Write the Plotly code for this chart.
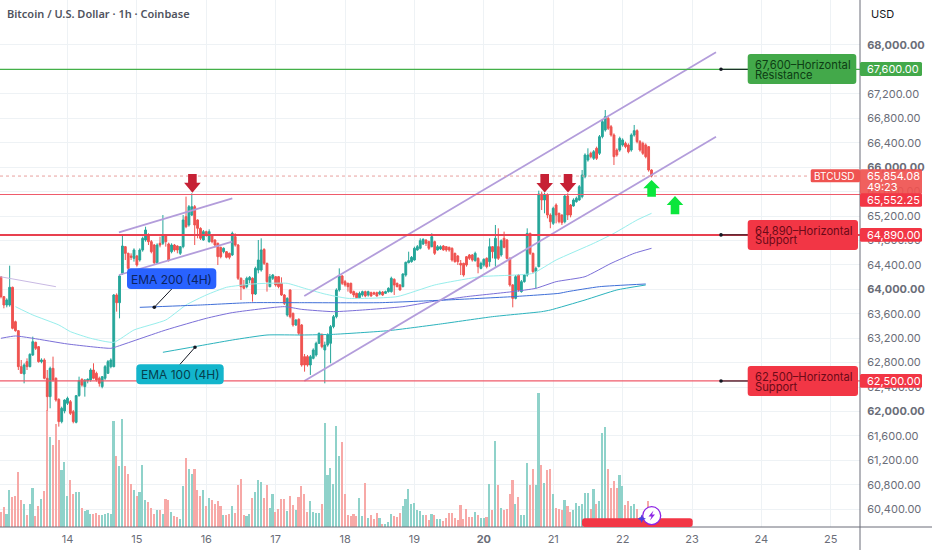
import plotly.graph_objects as go

W, H = 932, 550
PLOT_W, PLOT_H = 860, 527

# BTCUSD 1h candles, hour 1 = first bar on screen (13th 01:00)
opens = [
    64207, 63880, 63743, 63743, 64033, 63470, 63323, 62734, 62614, 62816,
    62734, 62925, 63132, 63061, 62816, 62843, 62543, 62243, 62707, 62543,
    62199, 61834, 62009, 62134, 62161, 61997, 61823, 62259, 62527, 62407,
    62505, 62516, 62679, 62625, 62543, 62407, 62543, 62625, 62734, 62734,
    63907, 63781, 64262, 64698, 64589, 64545, 64507, 64545, 64480, 64644,
    64807, 64889, 64780, 64725, 64436, 64753, 64753, 64878, 64742, 64616,
    64725, 64709, 64589, 64698, 65189, 65053, 65216, 65353, 65135, 64998,
    64807, 64944, 64780, 64889, 64807, 64753, 64687, 64616, 64616, 64589,
    64562, 64862, 64725, 64180, 64071, 64043, 64153, 64180, 63923, 64316,
    64316, 64654, 64425, 64043, 64180, 64207, 64207, 64098, 63907, 63580,
    63989, 63607, 63416, 63509, 63416, 62898, 62898, 62761, 62870, 62925,
    63116, 63252, 63007, 63089, 63116, 63389, 63552, 63989, 64218, 64125,
    64098, 64098, 63962, 63934, 63863, 63907, 63962, 63907, 63945, 63945,
    63945, 63923, 63956, 63934, 63962, 63962, 64163, 64098, 64071, 64043,
    64234, 64436, 64453, 64480, 64644, 64671, 64742, 64807, 64780, 64698,
    64780, 64644, 64660, 64709, 64698, 64687, 64671, 64589, 64545, 64425,
    64425, 64534, 64562, 64562, 64469, 64507, 64343, 64398, 64507, 64453,
    64698, 64507, 64698, 64562, 64835, 64807, 64507, 64071, 63852, 64234,
    63962, 64125, 64234, 64916, 64589, 64289, 64371, 65560, 65462, 65544,
    65216, 65080, 65380, 65244, 65216, 65107, 65527, 65380, 65364, 65435,
    65462, 65517, 65844, 66117, 66226, 66144, 66308, 66226, 66499, 66608,
    66799, 66662, 66526, 66280, 66280, 66362, 66389, 66362, 66280, 66526,
    66597, 66417, 66389, 66362, 66335, 65953,
]
closes = [
    63880, 63743, 63825, 64033, 63361, 63323, 62734, 62625, 62761, 62734,
    62936, 63143, 63034, 62816, 62843, 62543, 62243, 62707, 62516, 62188,
    61834, 62052, 62188, 62216, 61970, 61834, 62259, 62505, 62434, 62516,
    62527, 62679, 62543, 62516, 62461, 62570, 62734, 62816, 62843, 63907,
    63781, 64218, 64709, 64589, 64343, 64524, 64644, 64398, 64644, 64835,
    64971, 64780, 64616, 64436, 64725, 64725, 64889, 64780, 64480, 64725,
    64644, 64644, 64698, 65135, 65025, 65353, 65353, 65053, 64998, 64835,
    64944, 64889, 64944, 64780, 64725, 64534, 64534, 64671, 64524, 64524,
    64916, 64725, 64180, 64043, 64016, 64180, 64196, 63923, 64343, 64480,
    64644, 64425, 64125, 64207, 64234, 64071, 64043, 63907, 63771, 63852,
    63552, 63416, 63498, 63280, 62761, 62761, 62761, 62898, 63007, 63116,
    63280, 63061, 63089, 63252, 63389, 63552, 63989, 64218, 64098, 64071,
    64043, 63945, 63907, 63863, 63934, 63962, 63891, 63962, 63891, 63923,
    63891, 63956, 63907, 63962, 64016, 64180, 64071, 64043, 63989, 64251,
    64442, 64469, 64524, 64671, 64698, 64796, 64818, 64753, 64671, 64862,
    64589, 64698, 64698, 64644, 64644, 64644, 64480, 64453, 64453, 64398,
    64234, 64398, 64507, 64480, 64589, 64371, 64425, 64491, 64371, 64698,
    64616, 64835, 64507, 64796, 64687, 64507, 64071, 63852, 64207, 63989,
    64125, 64234, 64916, 64589, 64289, 64343, 65560, 65462, 65544, 65216,
    65107, 65326, 65216, 65107, 65091, 65527, 65216, 65216, 65462, 65489,
    65680, 65871, 66199, 66199, 66171, 66253, 66144, 66499, 66744, 66826,
    66635, 66526, 66171, 66199, 66471, 66444, 66335, 66253, 66526, 66597,
    66417, 66280, 66226, 66171, 65953, 65854,
]
highs = [
    64218, 63891, 63852, 64387, 64043, 63487, 63334, 62843, 62789, 62870,
    62952, 63225, 63143, 63072, 62870, 62870, 62679, 62734, 62898, 62559,
    62216, 62079, 62199, 62243, 62188, 62025, 62270, 62570, 62543, 62527,
    62543, 62707, 62789, 62652, 62570, 62581, 62761, 62843, 62870, 63923,
    63934, 64234, 64889, 64709, 64600, 64589, 64671, 64562, 64671, 64862,
    65025, 64916, 64807, 64742, 64753, 64862, 65216, 64900, 64764, 64753,
    64742, 64720, 64709, 65216, 65517, 65380, 65571, 65380, 65145, 65015,
    64971, 64960, 64982, 64905, 64818, 64764, 64698, 64687, 64627, 64600,
    64944, 64916, 64742, 64196, 64153, 64207, 64218, 64196, 64371, 64807,
    64835, 64671, 64436, 64251, 64251, 64218, 64218, 64196, 63923, 63869,
    64000, 63618, 63509, 63525, 63432, 62941, 62925, 62925, 63034, 63143,
    63291, 63280, 63143, 63280, 63416, 63580, 64016, 64343, 64234, 64153,
    64109, 64109, 63978, 63945, 63962, 63978, 63978, 63978, 63962, 63962,
    63962, 63978, 63972, 63978, 64033, 64207, 64180, 64109, 64087, 64262,
    64453, 64616, 64545, 64698, 64725, 64835, 64835, 64818, 64796, 64916,
    64796, 64725, 64720, 64725, 64709, 64698, 64687, 64600, 64562, 64480,
    64436, 64545, 64578, 64578, 64616, 64524, 64453, 64507, 64524, 64835,
    64709, 65053, 64998, 64818, 64944, 64824, 64524, 64087, 64234, 64251,
    64153, 64251, 64998, 64927, 64600, 64371, 65615, 65598, 65582, 65571,
    65244, 65353, 65407, 65255, 65227, 65560, 65571, 65396, 65489, 65517,
    65707, 65953, 66226, 66308, 66253, 66280, 66335, 66526, 66772, 66935,
    66826, 66690, 66553, 66308, 66499, 66471, 66417, 66389, 66553, 66690,
    66619, 66444, 66417, 66389, 66346, 65964,
]
lows = [
    63852, 63689, 63705, 63716, 63345, 63307, 62679, 62614, 62461, 62679,
    62723, 62909, 63007, 62800, 62789, 62527, 62014, 62052, 62488, 62161,
    61752, 61806, 61970, 62106, 61943, 61806, 61806, 62243, 62407, 62243,
    62461, 62488, 62527, 62488, 62407, 62379, 62516, 62614, 62707, 62723,
    63634, 63525, 64234, 64480, 64316, 64480, 64453, 64371, 64453, 64616,
    64780, 64725, 64589, 64398, 64425, 64687, 64725, 64698, 64453, 64589,
    64616, 64589, 64562, 64671, 65000, 65025, 65200, 64725, 64835, 64807,
    64796, 64862, 64764, 64753, 64687, 64398, 64507, 64589, 64507, 64491,
    64545, 64698, 64153, 63825, 64000, 64016, 64098, 63798, 63907, 64262,
    64289, 64398, 63962, 64033, 64153, 64043, 64016, 63891, 63743, 63552,
    63525, 63389, 63400, 63252, 62734, 62652, 62734, 62598, 62854, 62898,
    63105, 63034, 62461, 63061, 62789, 63361, 63525, 63962, 64071, 64043,
    63962, 63923, 63869, 63852, 63852, 63880, 63869, 63880, 63880, 63907,
    63880, 63902, 63891, 63923, 63945, 63945, 63907, 64033, 63978, 64033,
    64207, 64425, 64436, 64469, 64633, 64654, 64725, 64709, 64644, 64687,
    64562, 64633, 64644, 64633, 64616, 64616, 64453, 64436, 64398, 64234,
    64207, 64371, 64480, 64453, 64453, 64262, 64327, 64371, 64343, 64371,
    64507, 64371, 64480, 64534, 64671, 64491, 64043, 63705, 63836, 63962,
    63945, 64109, 64207, 64562, 64262, 64016, 64360, 65298, 65244, 65162,
    65000, 65053, 65080, 65080, 65053, 65080, 65135, 65178, 65353, 65418,
    65451, 65489, 65817, 66090, 66144, 66117, 66117, 66199, 66471, 66581,
    66608, 66499, 66035, 66171, 66253, 66335, 66308, 66226, 66253, 66499,
    66389, 66253, 66199, 66144, 65926, 65833,
]
volumes = [
    45, 60, 38, 110, 90, 92, 165, 82, 68, 35,
    70, 118, 32, 62, 85, 107, 350, 270, 245, 310,
    260, 172, 195, 92, 142, 100, 106, 106, 58, 48,
    50, 38, 38, 43, 35, 35, 40, 43, 38, 318,
    212, 182, 325, 182, 160, 130, 112, 92, 105, 185,
    80, 75, 58, 40, 52, 50, 38, 85, 80, 45,
    32, 30, 24, 122, 208, 175, 160, 175, 112, 92,
    110, 62, 88, 80, 68, 77, 62, 37, 37, 40,
    62, 42, 125, 145, 35, 32, 38, 88, 105, 140,
    134, 87, 125, 58, 100, 45, 55, 83, 85, 48,
    93, 65, 52, 90, 122, 100, 45, 78, 45, 42,
    42, 68, 313, 155, 177, 130, 302, 212, 255, 100,
    35, 32, 40, 32, 88, 32, 132, 27, 37, 25,
    42, 27, 10, 10, 14, 40, 32, 30, 43, 62,
    83, 115, 68, 72, 50, 48, 37, 35, 20, 40,
    37, 23, 23, 18, 27, 43, 43, 28, 20, 66,
    25, 53, 29, 29, 46, 37, 26, 26, 29, 128,
    50, 258, 125, 58, 50, 55, 100, 142, 68, 90,
    35, 37, 193, 127, 173, 125, 402, 186, 132, 172,
    175, 100, 58, 55, 50, 82, 62, 45, 50, 73,
    62, 70, 102, 102, 53, 115, 70, 77, 283, 301,
    175, 118, 137, 118, 157, 124, 65, 77, 62, 70,
    55, 30, 35, 25, 77, 30,
]
hours = list(range(1, len(closes) + 1))

ema_light_hours = [6, 12, 21, 25, 32, 40, 47, 58, 65, 72, 79, 88, 93, 100, 106, 113, 121, 138, 151, 167, 179, 185, 193, 206, 213, 221, 226]
ema_light = [63716, 63580, 63416, 63307, 63198, 63132, 63334, 63498, 63743, 63907, 64033, 64087, 64098, 64098, 64016, 63923, 63852, 63880, 64071, 64207, 64234, 64262, 64480, 64753, 64916, 65135, 65244]
ema_purple_hours = [1, 6, 12, 24, 39, 41, 58, 72, 81, 99, 105, 116, 126, 140, 150, 162, 178, 186, 193, 203, 212, 220, 226]
ema_purple = [63198, 63236, 63198, 63105, 63034, 63061, 63334, 63525, 63618, 63716, 63672, 63634, 63661, 63716, 63798, 63880, 63962, 64016, 64125, 64207, 64425, 64589, 64671]
ema_200_hours = [49, 70, 87, 105, 132, 155, 178, 194, 197, 208, 224]
ema_200 = [63705, 63743, 63781, 63781, 63781, 63825, 63880, 63934, 63962, 64043, 64087]
ema_100_hours = [57, 68, 81, 93, 105, 116, 135, 153, 171, 188, 191, 203, 214, 224]
ema_100 = [62969, 63061, 63170, 63252, 63252, 63263, 63323, 63432, 63552, 63634, 63661, 63825, 63989, 64071]

# trend lines drawn on the chart: [start, end]
trend_hours_short = [41.8, 81]
trend_short_upper = [64933, 65490]
trend_short_lower = [64234, 64779]
trend_hours_long = [105.9, 248.3]
trend_long_upper = [63890, 67880]
trend_long_lower = [62500, 66498]
old_hours = [0.66, 20]
old_trend = [64207, 64043]

day_labels = ["14", "15", "16", "17", "18", "19", "<b>20</b>", "21", "22", "23", "24", "25"]
day_hours = [24, 48, 72, 96, 120, 144, 168, 192, 216, 240, 264, 288]
price_ticks = [60400, 60800, 61200, 61600, 62000, 62400, 62800, 63200, 63600, 64000, 64400, 64800,
               65200, 65600, 66000, 66400, 66800, 67200, 67600, 68000]
price_labels = [f"<b>{p:,.2f}</b>" if p % 2000 == 0 else f"{p:,.2f}" for p in price_ticks]

UP, DOWN = "#26a69a", "#ef5350"
LAVENDER = "#b39ddb"
GRID = "#eef2f5"
AXIS = "#6a6d78"
FONT = "Inter"


# pixel helpers for the overlay drawings
def fx(px):
    return px / PLOT_W


def fy(py):
    return 1 - py / PLOT_H


def box(x0, y0, x1, y1, color, r=3.0, opacity=1.0):
    p = (f"M {fx(x0 + r)} {fy(y0)} L {fx(x1 - r)} {fy(y0)} Q {fx(x1)} {fy(y0)} {fx(x1)} {fy(y0 + r)} "
         f"L {fx(x1)} {fy(y1 - r)} Q {fx(x1)} {fy(y1)} {fx(x1 - r)} {fy(y1)} "
         f"L {fx(x0 + r)} {fy(y1)} Q {fx(x0)} {fy(y1)} {fx(x0)} {fy(y1 - r)} "
         f"L {fx(x0)} {fy(y0 + r)} Q {fx(x0)} {fy(y0)} {fx(x0 + r)} {fy(y0)} Z")
    return dict(type="path", xref="paper", yref="paper", path=p, fillcolor=color, opacity=opacity,
                line=dict(width=0), layer="above")


def poly(points, color):
    p = "M " + " L ".join(f"{fx(a)} {fy(b)}" for a, b in points) + " Z"
    return dict(type="path", xref="paper", yref="paper", path=p, fillcolor=color, line=dict(width=0), layer="above")


def seg(x0, y0, x1, y1, color="#131722", width=1.0):
    return dict(type="line", xref="paper", yref="paper", x0=fx(x0), y0=fy(y0), x1=fx(x1), y1=fy(y1),
                line=dict(color=color, width=width), layer="above")


def dot(cx, cy, r=1.8, color="#131722", line=None, lw=0):
    return dict(type="circle", xref="paper", yref="paper", x0=fx(cx - r), x1=fx(cx + r), y0=fy(cy - r), y1=fy(cy + r),
                fillcolor=color, line=dict(color=line or color, width=lw), layer="above")


def arrow_down(cx, top, neck, tip, color):
    return poly([(cx - 4.3, top), (cx + 4.3, top), (cx + 4.3, neck), (cx + 8.3, neck), (cx, tip), (cx - 8.3, neck), (cx - 4.3, neck)], color)


def arrow_up(cx, tip, neck, bottom, color):
    return poly([(cx, tip), (cx + 8.3, neck), (cx + 4.3, neck), (cx + 4.3, bottom), (cx - 4.3, bottom), (cx - 4.3, neck), (cx - 8.3, neck)], color)


# annotations sit about 2px in from the given x because of their padding
def text(px, py, s, color, size=12, anchor="left", weight=None, family=FONT):
    return dict(xref="paper", yref="paper", x=fx(px - 2 if anchor == "left" else px), y=fy(py), xanchor=anchor,
                yanchor="middle", showarrow=False, text=s, font=dict(family=family, size=size, color=color, weight=weight))


fig = go.Figure()

fig.add_trace(go.Bar(x=hours, y=volumes, width=0.56, yaxis="y",
                     marker=dict(color=["#8fd2ca" if c >= o else "#f7a9a7" for o, c in zip(opens, closes)], line=dict(width=0)),
                     hoverinfo="skip"))
fig.add_trace(go.Candlestick(x=hours, open=opens, high=highs, low=lows, close=closes, yaxis="y2", whiskerwidth=0,
                             increasing=dict(line=dict(color=UP, width=1), fillcolor=UP),
                             decreasing=dict(line=dict(color=DOWN, width=1), fillcolor=DOWN),
                             hoverinfo="skip"))

for xs, ys, color, w in [
    (ema_light_hours, ema_light, "#97eeec", 1),
    (ema_purple_hours, ema_purple, "#7b6fd8", 1),
    (ema_200_hours, ema_200, "#3f6fd8", 1),
    (ema_100_hours, ema_100, "#2bb3bd", 1),
    (old_hours, old_trend, "#c8b9e3", 1),
    (trend_hours_short, trend_short_upper, LAVENDER, 1.8),
    (trend_hours_short, trend_short_lower, LAVENDER, 1.8),
    (trend_hours_long, trend_long_upper, LAVENDER, 1.8),
    (trend_hours_long, trend_long_lower, LAVENDER, 1.8),
]:
    fig.add_trace(go.Scatter(x=xs, y=ys, mode="lines", yaxis="y2", hoverinfo="skip",
                             line=dict(color=color, width=w, shape="spline", smoothing=0.5)))

shapes = [
    dict(type="line", xref="paper", yref="y2", x0=0, x1=1, y0=67600, y1=67600, line=dict(color="#43b048", width=1.2)),
    dict(type="line", xref="paper", yref="y2", x0=0, x1=1, y0=65552.25, y1=65552.25, line=dict(color="#ef5b6b", width=1.2)),
    dict(type="line", xref="paper", yref="y2", x0=0, x1=1, y0=64890, y1=64890, line=dict(color="#e8404f", width=2)),
    dict(type="line", xref="paper", yref="y2", x0=0, x1=1, y0=62500, y1=62500, line=dict(color="#ef5b6b", width=1.2)),
    dict(type="line", xref="paper", yref="y2", x0=0, x1=810 / PLOT_W, y0=65854.08, y1=65854.08,
         line=dict(color="#e8a09e", width=1, dash="dot")),
]

# axis frame runs past the plot into the margins
shapes += [seg(860, 0, 860, 550, AXIS, 1), seg(0, 527, 932, 527, AXIS, 1)]

# horizontal level connectors and labels
for py in [69.3, 234.9, 381]:
    shapes += [seg(721, py, 748, py, "#131722", 1), dot(721, py)]
shapes += [
    box(747.7, 54, 856.3, 84, "#43a94a"),
    box(747.7, 220, 858, 250, "#f23645"),
    box(747.7, 366, 858, 396, "#f23645"),
    box(860, 62, 922, 76, "#43a94a", r=1.5),
    box(860, 228, 922, 241.7, "#f23645", r=1.5),
    box(860, 374, 922, 387.7, "#f23645", r=1.5),
    box(860, 169.3, 922, 194, "#ef5350", r=1.5, opacity=0.92),
    box(860, 193.3, 922, 206.7, "#f23645", r=1.5),
    box(810.7, 169.3, 860, 182.3, "#ef5350", r=1.5),
    # EMA tags
    box(127, 268.3, 216.3, 289, "#2962ff", r=4),
    box(136.3, 364.3, 223.7, 384.3, "#13b5cc", r=4),
    seg(171.7, 289, 154.3, 307.3), dot(154.3, 307.3),
    seg(180, 364.3, 195, 347.3), dot(195, 347.3),
    # signal arrows
    arrow_down(192.4, 174, 182.7, 192.7, "#c62135"),
    arrow_down(544.7, 174, 183, 192.5, "#c62135"),
    arrow_down(568, 174, 183, 192.5, "#c62135"),
    arrow_up(651.6, 180, 188.3, 196.7, "#0be63c"),
    arrow_up(675, 196, 205, 214.3, "#0be63c"),
    # bottom tag and badge
    box(582, 518.3, 692.7, 527, "#f23645"),
    dot(651.7, 515.7, r=9, color="#ffffff", line="#8e24e5", lw=1.3),
    poly([(653.5, 510.5), (648.5, 516.5), (651.5, 516.5), (650, 520.5), (655, 514.5), (652, 514.5)], "#8e24e5"),
    poly([(641.7, 514.5), (643, 517.5), (646, 518.7), (643, 520), (641.7, 523), (640.4, 520), (637.4, 518.7), (640.4, 517.5)], "#4a3fe0"),
]

annotations = [
    text(7, 13.5, "Bitcoin / U.S. Dollar · 1h · Coinbase", "#50535e", size=11, weight=600, family="Noto Sans"),
    text(871, 14.5, "USD", "#131722", size=11),
    text(755, 64.5, "67,600–Horizontal", "#0d3d14", size=11.2),
    text(755, 74.5, "Resistance", "#0d3d14", size=11.2),
    text(755, 230.5, "64,890–Horizontal", "#6b0a18", size=11.2),
    text(755, 240.5, "Support", "#6b0a18", size=11.2),
    text(755, 376.5, "62,500–Horizontal", "#6b0a18", size=11.2),
    text(755, 386.5, "Support", "#6b0a18", size=11.2),
    text(867, 69, "67,600.00", "#ffffff", size=11),
    text(867, 235, "64,890.00", "#ffffff", size=11),
    text(867, 381, "62,500.00", "#ffffff", size=11),
    text(867, 175.5, "65,854.08", "#ffffff", size=11),
    text(867, 186.5, "49:23", "#ffffff", size=11),
    text(867, 200, "65,552.25", "#ffffff", size=11),
    text(814, 176, "BTCUSD", "#ffffff", size=10),
    text(171.7, 279, "EMA 200 (4H)", "#0c2461", size=12, anchor="center"),
    text(180, 374.5, "EMA 100 (4H)", "#053f4d", size=12, anchor="center"),
]

fig.update_layout(
    width=W, height=H, margin=dict(l=0, r=W - PLOT_W, t=0, b=H - PLOT_H),
    paper_bgcolor="#ffffff", plot_bgcolor="#ffffff", showlegend=False,
    font=dict(family=FONT, color=AXIS, size=12),
    shapes=shapes, annotations=annotations, bargap=0, boxgap=0.1,
    xaxis=dict(range=[0.66, 298.1], rangeslider=dict(visible=False), tickvals=day_hours, ticktext=day_labels,
               showgrid=True, gridcolor=GRID, gridwidth=1, zeroline=False, showline=False,
               ticks="outside", ticklen=2, tickcolor="rgba(0,0,0,0)", tickfont=dict(size=11, color=AXIS)),
    yaxis=dict(range=[0, 1581], visible=False, fixedrange=True),
    yaxis2=dict(range=[60109, 68736], overlaying="y", side="right", tickvals=price_ticks, ticktext=price_labels,
                showgrid=True, gridcolor=GRID, gridwidth=1, zeroline=False, showline=False,
                ticks="outside", ticklen=4, tickcolor="rgba(0,0,0,0)", tickfont=dict(size=11, color=AXIS)),
)

fig.write_html("out.html", config=dict(displayModeBar=False), post_script="document.body.style.margin='0';")
